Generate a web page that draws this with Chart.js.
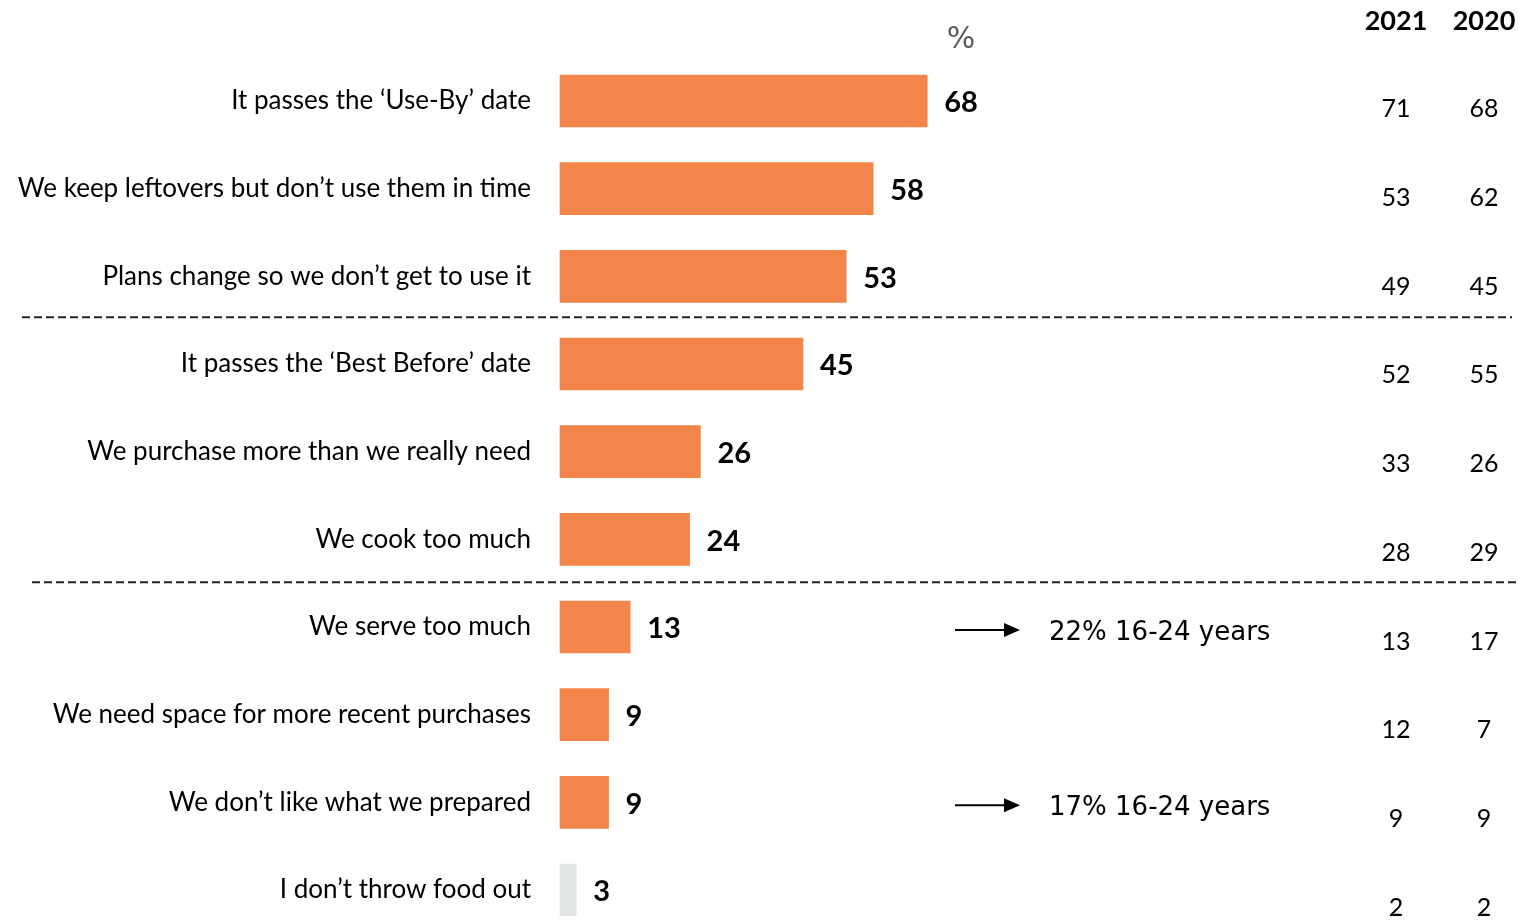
<!DOCTYPE html>
<html lang="en">
<head>
    <meta charset="UTF-8">
    <title>Reasons for throwing food out</title>
    <script src="https://cdn.jsdelivr.net/npm/chart.js"></script>
    <style>
        html, body { margin: 0; padding: 0; background: #ffffff; overflow: hidden; }
    </style>
</head>
<body>
    <canvas id="grafico" width="1519" height="921"></canvas>

    <script>
        // Reasons and current percentages
        const categories = [
            'It passes the \u2018Use-By\u2019 date',
            'We keep leftovers but don\u2019t use them in time',
            'Plans change so we don\u2019t get to use it',
            'It passes the \u2018Best Before\u2019 date',
            'We purchase more than we really need',
            'We cook too much',
            'We serve too much',
            'We need space for more recent purchases',
            'We don\u2019t like what we prepared',
            'I don\u2019t throw food out'
        ];
        const values = [68, 58, 53, 45, 26, 24, 13, 9, 9, 3];
        const values2021 = [71, 53, 49, 52, 33, 28, 13, 12, 9, 2];
        const values2020 = [68, 62, 45, 55, 26, 29, 17, 7, 9, 2];
        const yearLabels = ['2021', '2020'];
        // notes shown next to some rows (index -> text)
        const notes = { 6: '22% 16-24 years', 8: '17% 16-24 years' };
        // dashed separators drawn after these row indexes
        const separators = [2, 5];

        const orange = '#F4854A';
        const grey = '#E1E5E6';
        const barColors = categories.map((c, i) => i === categories.length - 1 ? grey : orange);

        // draws value labels, the year columns, notes and dashed separators
        const extras = {
            id: 'extras',
            afterDatasetsDraw(chart) {
                const ctx = chart.ctx;
                const x = chart.scales.x;
                const y = chart.scales.y;
                ctx.save();

                // values at bar ends
                ctx.font = 'bold 29px Lato';
                ctx.fillStyle = '#000';
                ctx.textAlign = 'left';
                ctx.textBaseline = 'middle';
                values.forEach((v, i) => {
                    ctx.fillText(v, x.getPixelForValue(v) + 17, y.getPixelForValue(i) + 2);
                });

                // year columns
                const colX = [1396, 1484];
                ctx.textAlign = 'center';
                ctx.font = 'bold 27px Lato';
                yearLabels.forEach((t, k) => ctx.fillText(t, colX[k], 21));
                ctx.font = '25px Lato';
                [values2021, values2020].forEach((arr, k) => {
                    arr.forEach((v, i) => {
                        ctx.fillText(v, colX[k], y.getPixelForValue(i) + 8 + i * 1.1);
                    });
                });

                // percent sign over the bars
                ctx.fillStyle = '#595959';
                ctx.font = '30px "DejaVu Sans"';
                ctx.fillText('%', 961, 40);

                // notes with arrows
                ctx.fillStyle = '#000';
                ctx.strokeStyle = '#000';
                ctx.lineWidth = 2;
                ctx.textAlign = 'left';
                ctx.font = '26px "DejaVu Sans"';
                Object.keys(notes).forEach(k => {
                    const cy = y.getPixelForValue(Number(k)) + 3;
                    ctx.beginPath();
                    ctx.moveTo(955, cy);
                    ctx.lineTo(1006, cy);
                    ctx.stroke();
                    ctx.beginPath();
                    ctx.moveTo(1020, cy);
                    ctx.lineTo(1004, cy - 7);
                    ctx.lineTo(1004, cy + 7);
                    ctx.closePath();
                    ctx.fill();
                    ctx.fillText(notes[k], 1049, cy + 3);
                });

                // dashed group separators
                ctx.strokeStyle = '#222';
                ctx.lineWidth = 2;
                ctx.setLineDash([8, 4]);
                const sepX = [[22, 1512], [32, 1518]];
                separators.forEach((i, n) => {
                    const sy = (y.getPixelForValue(i) + y.getPixelForValue(i + 1)) / 2 - 3 + n * 2;
                    ctx.beginPath();
                    ctx.moveTo(sepX[n][0], sy);
                    ctx.lineTo(sepX[n][1], sy);
                    ctx.stroke();
                });
                ctx.restore();
            }
        };

        const ctx = document.getElementById('grafico').getContext('2d');
        const myChart = new Chart(ctx, {
            type: 'bar',
            data: {
                labels: categories,
                datasets: [{
                    data: values,
                    backgroundColor: barColors,
                    barThickness: 52,
                    clip: false
                }]
            },
            options: {
                indexAxis: 'y',
                responsive: false,
                animation: false,
                layout: { padding: { top: 101, bottom: 31, left: 0, right: 419 } },
                plugins: {
                    legend: { display: false },
                    tooltip: { enabled: false }
                },
                scales: {
                    x: {
                        min: 0,
                        max: 100,
                        display: false
                    },
                    y: {
                        offset: false,
                        grid: { display: false },
                        border: { display: false },
                        afterFit: (scale) => {
                            scale.width = 560;
                            scale.paddingTop = 0;
                            scale.paddingBottom = 0;
                        },
                        ticks: {
                            padding: 21,
                            color: '#000',
                            font: { family: 'Lato', size: 26 }
                        }
                    }
                }
            },
            plugins: [extras]
        });
    </script>
</body>
</html>
